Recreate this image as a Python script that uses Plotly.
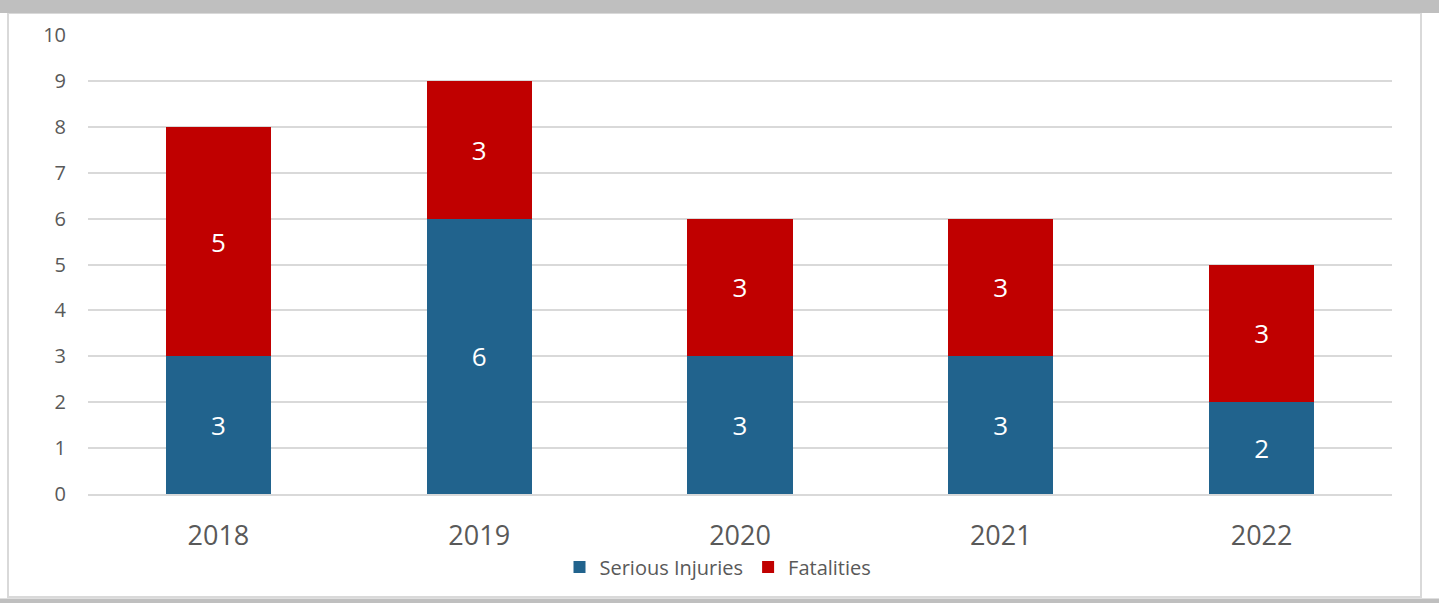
import plotly.graph_objects as go

# Annual counts
years = ["2018", "2019", "2020", "2021", "2022"]
serious_injuries = [3, 6, 3, 3, 2]
fatalities = [5, 3, 3, 3, 3]
y_ticks = [0, 1, 2, 3, 4, 5, 6, 7, 8, 9, 10]

BLUE = "#21638D"
RED = "#C00000"
GRID = "#D9D9D9"
TEXT = "#595959"
FONT = "Open Sans"

W, H = 1439, 603
L, R, T, B = 88, 47, 35, 109
PW, PH = W - L - R, H - T - B


def px_x(p):
    return (p - L) / PW


def px_y(p):
    return (H - B - p) / PH


fig = go.Figure()
fig.add_trace(go.Bar(
    x=years, y=serious_injuries, name="Serious Injuries",
    marker=dict(color=BLUE, line=dict(width=0)),
    text=[str(v) for v in serious_injuries], textposition="inside",
    insidetextanchor="middle", textangle=0,
    textfont=dict(color="white", size=26, family=FONT),
))
fig.add_trace(go.Bar(
    x=years, y=fatalities, name="Fatalities",
    marker=dict(color=RED, line=dict(width=0)),
    text=[str(v) for v in fatalities], textposition="inside",
    insidetextanchor="middle", textangle=0,
    textfont=dict(color="white", size=26, family=FONT),
))

shapes = [
    # outer frame of the chart card
    dict(type="rect", xref="paper", yref="paper",
         x0=px_x(8), x1=px_x(1421), y0=px_y(597), y1=px_y(13),
         line=dict(color=GRID, width=2), fillcolor="rgba(0,0,0,0)", layer="below"),
    # top band
    dict(type="rect", xref="paper", yref="paper",
         x0=px_x(0), x1=px_x(W), y0=px_y(13), y1=px_y(0),
         line=dict(width=0), fillcolor="#BFBFBF", layer="below"),
    # bottom band
    dict(type="rect", xref="paper", yref="paper",
         x0=px_x(0), x1=px_x(W), y0=px_y(H), y1=px_y(598.5),
         line=dict(width=0), fillcolor="#BFBFBF", layer="below"),
]

fig.update_layout(
    width=W, height=H,
    margin=dict(l=L, r=R, t=T, b=B, pad=0),
    barmode="stack", bargap=0.597,
    paper_bgcolor="white", plot_bgcolor="white",
    font=dict(family=FONT, color=TEXT),
    shapes=shapes,
    showlegend=True,
    legend=dict(orientation="h", xanchor="center", x=px_x(718), yanchor="middle",
                y=px_y(567), font=dict(size=20, color=TEXT, family=FONT),
                traceorder="normal", itemwidth=30, bgcolor="rgba(0,0,0,0)"),
    xaxis=dict(
        showgrid=False, showline=True, linecolor=GRID, linewidth=2,
        tickfont=dict(size=27, color=TEXT, family=FONT),
        ticks="outside", ticklen=17, tickcolor="rgba(0,0,0,0)",
        fixedrange=True,
    ),
    yaxis=dict(
        range=[0, 10], tickvals=y_ticks, showgrid=True, gridcolor=GRID, gridwidth=2,
        zeroline=False, showline=False,
        tickfont=dict(size=20, color=TEXT, family=FONT),
        ticks="outside", ticklen=17, tickcolor="rgba(0,0,0,0)",
        fixedrange=True,
    ),
)

fig.write_html("out.html")
